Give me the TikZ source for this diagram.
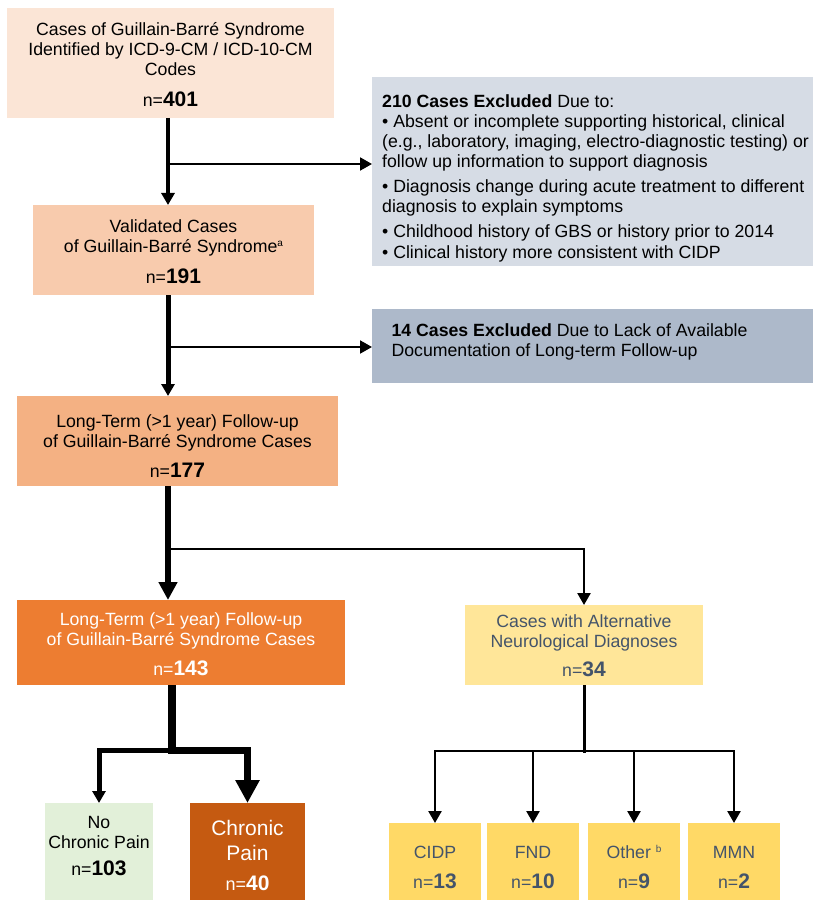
\documentclass[tikz,border=0pt]{standalone}
\usepackage{fontspec}
\setmainfont{Liberation Sans}
\usetikzlibrary{arrows.meta}
\definecolor{cA}{HTML}{FBE5D6}
\definecolor{cB}{HTML}{F8CBAD}
\definecolor{cC}{HTML}{F4B183}
\definecolor{cD}{HTML}{ED7D31}
\definecolor{cE}{HTML}{FFE699}
\definecolor{cF}{HTML}{FFD966}
\definecolor{gA}{HTML}{D6DCE5}
\definecolor{gB}{HTML}{ADB9CA}
\definecolor{grn}{HTML}{E2F0D9}
\definecolor{brn}{HTML}{C55A11}
\definecolor{slate}{HTML}{44546A}
\newcommand{\boxtext}[3]{\raisebox{0pt}[#1][#2]{\begin{tabular}[t]{@{}c@{}}#3\end{tabular}}}
\newcommand{\boxtextl}[3]{\raisebox{0pt}[#1][#2]{\begin{tabular}[t]{@{}l@{}}#3\end{tabular}}}
\newcommand{\nn}[1]{n={\fontsize{21}{20}\selectfont\bfseries #1}}
\newcommand{\mysup}[1]{\raisebox{6pt}{\fontsize{10}{10}\selectfont #1}}
\begin{document}
\begin{tikzpicture}[x=1pt,y=-1pt,
  bx/.style={inner sep=0pt, outer sep=0pt, draw=none, font=\fontsize{17.7}{20}\selectfont},
  tipS/.style={-{Triangle[length=12pt,width=13pt]}},
  tipM/.style={-{Triangle[length=18pt,width=18pt]}},
  tipL/.style={-{Triangle[length=23pt,width=23pt]}},
  ln/.style={draw=black}]
\useasboundingbox (0,0) rectangle (814,901);

% boxes
\node[bx, fill=cA, minimum width=327pt, minimum height=110pt] (b1) at (170.5,63)
  {\boxtext{0pt}{54pt}{Cases of Guillain-Barré Syndrome\\Identified by ICD-9-CM / ICD-10-CM\\Codes\\[10pt]\nn{401}}};
\node[bx, fill=gA, minimum width=441pt, minimum height=189pt] (gx1) at (592.5,171.5)
  {\rule{6pt}{0pt}\boxtextl{0pt}{127pt}{\textbf{210 Cases Excluded} Due to:\\
  • Absent or incomplete supporting historical, clinical\\
  (e.g., laboratory, imaging, electro-diagnostic testing) or\\
  follow up information to support diagnosis\\[5pt]
  • Diagnosis change during acute treatment to different\\
  diagnosis to explain symptoms\\[5pt]
  • Childhood history of GBS or history prior to 2014\\[1pt]
  • Clinical history more consistent with CIDP}};
\node[bx, fill=cB, minimum width=281pt, minimum height=90pt] (b2) at (173.5,250)
  {\boxtext{0pt}{34pt}{Validated Cases\\of Guillain-Barré Syndrome\mysup{a}\\[10pt]\nn{191}}};
\node[bx, fill=gB, minimum width=441pt, minimum height=74pt] (gx2) at (592.5,346)
  {\boxtextl{0pt}{20pt}{\textbf{14 Cases Excluded} Due to Lack of Available\\Documentation of Long-term Follow-up}\rule{46pt}{0pt}};
\node[bx, fill=cC, minimum width=321pt, minimum height=90pt] (b3) at (177.5,441)
  {\boxtext{0pt}{28pt}{Long-Term (>1 year) Follow-up\\of Guillain-Barré Syndrome Cases\\[10pt]\nn{177}}};
\node[bx, fill=cD, text=white, minimum width=328pt, minimum height=85pt] (b4) at (181,642.5)
  {\boxtext{0pt}{35pt}{Long-Term (>1 year) Follow-up\\of Guillain-Barré Syndrome Cases\\[10pt]\nn{143}}};
\node[bx, fill=cE, text=slate, minimum width=238pt, minimum height=80pt] (b5) at (584,645)
  {\boxtext{0pt}{36pt}{Cases with Alternative\\Neurological Diagnoses\\[9pt]\nn{34}}};
\node[bx, fill=grn, minimum width=108pt, minimum height=97pt] (nc) at (99,851.5)
  {\boxtext{0pt}{47pt}{No\\Chronic Pain\\[7pt]\nn{103}}};
\node[bx, fill=brn, text=white, minimum width=115pt, minimum height=97pt, font=\fontsize{21}{25}\selectfont] (cp) at (247.5,851.5)
  {\boxtext{0pt}{33pt}{Chronic\\Pain\\[5pt]{\fontsize{18}{20}\selectfont n=}{\fontsize{21}{20}\selectfont\bfseries 40}}};
\node[bx, fill=cF, text=slate, minimum width=92pt, minimum height=77pt] (cidp) at (435,861.5)
  {\boxtext{0pt}{7pt}{CIDP\\[10pt]\nn{13}}};
\node[bx, fill=cF, text=slate, minimum width=92pt, minimum height=77pt] (fnd) at (533,861.5)
  {\boxtext{0pt}{7pt}{FND\\[10pt]\nn{10}}};
\node[bx, fill=cF, text=slate, minimum width=92pt, minimum height=77pt] (oth) at (634,861.5)
  {\boxtext{0pt}{7pt}{Other \mysup{b}\\[10pt]\nn{9}}};
\node[bx, fill=cF, text=slate, minimum width=92pt, minimum height=77pt] (mmn) at (734,861.5)
  {\boxtext{0pt}{7pt}{MMN\\[10pt]\nn{2}}};

% junctions
\coordinate (j1) at (168,164);
\coordinate (j2) at (168,347);
\coordinate (j3) at (168,549);
\coordinate (j4) at (172,750);
\coordinate (j5) at (584,751);

% connectors
\draw[ln, line width=4pt, tipS] (b1.south -| j1) -- (b2.north -| j1);
\draw[ln, line width=2pt, tipS] (j1) -- (gx1.west |- j1);
\draw[ln, line width=5pt, tipS] (b2.south -| j2) -- (b3.north -| j2);
\draw[ln, line width=2pt, tipS] (j2) -- (gx2.west |- j2);
\draw[ln, line width=6pt, tipM] (b3.south -| j3) -- (b4.north -| j3);
\draw[ln, line width=2.5pt, tipS] (j3) -- (j3 -| b5) -- (b5.north);
\draw[ln, line width=8pt] (b4.south -| j4) -- ([yshift=-3.5pt]j4);
\draw[ln, line width=5pt, tipS] (j4) -- (j4 -| nc) -- (nc.north);
\draw[ln, line width=7pt, tipL] (j4) -- (j4 -| cp) -- (cp.north);
\draw[ln, line width=3pt] (b5.south) -- ([yshift=-1.5pt]j5);
\draw[ln, line width=2.5pt, tipS] (j5) -- (j5 -| cidp) -- (cidp.north);
\draw[ln, line width=2.5pt, tipS] (j5) -- (j5 -| fnd) -- (fnd.north);
\draw[ln, line width=2.5pt, tipS] (j5) -- (j5 -| oth) -- (oth.north);
\draw[ln, line width=2.5pt, tipS] (j5) -- (j5 -| mmn) -- (mmn.north);
\end{tikzpicture}
\end{document}
